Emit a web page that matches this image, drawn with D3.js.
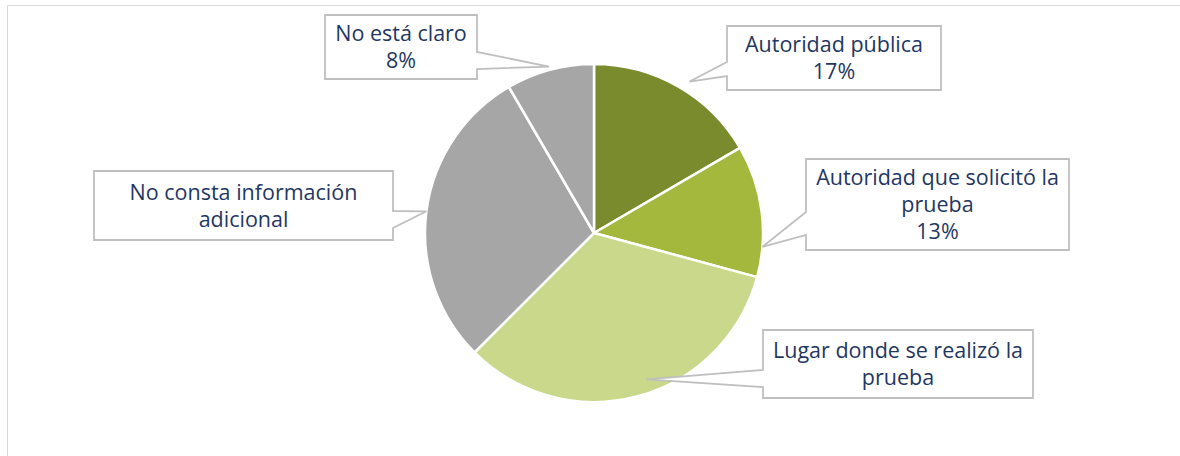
<!DOCTYPE html>
<html>
<head>
<meta charset="utf-8">
<script src="https://cdn.jsdelivr.net/npm/d3@7"></script>
<style>
  html, body { margin: 0; padding: 0; background: #fff; }
  svg { display: block; }
</style>
</head>
<body>
<svg id="chart"></svg>
<script>
// data (slice sizes estimated from the angles)
const categories = [
  "Autoridad pública",
  "Autoridad que solicitó la prueba",
  "Lugar donde se realizó la prueba",
  "No consta información adicional",
  "No está claro"
];
const shares = [16.6, 12.6, 33.3, 29.1, 8.4];
const labelLines = [
  ["Autoridad pública"],
  ["Autoridad que solicitó la", "prueba"],
  ["Lugar donde se realizó la", "prueba"],
  ["No consta información", "adicional"],
  ["No está claro"]
];
const showPercent = [true, true, false, false, true];
const colors = ["#7a8b2e", "#a3b83d", "#c9d88a", "#a6a6a6", "#a6a6a6"];

// callout boxes (manual placement like the original), tip given relative to the slice
const callouts = [
  { x: 727, y: 26,  w: 214, h: 64, side: "left",  w0: 62,  w1: 76,  frac: 0.54, rf: 1.06 },
  { x: 806, y: 159, w: 263, h: 91, side: "left",  w0: 212, w1: 235, frac: 0.77, rf: 1.0 },
  { x: 763, y: 330, w: 270, h: 68, side: "left",  w0: 370, w1: 387, frac: 0.46, rf: 0.92 },
  { x: 94,  y: 171, w: 299, h: 69, side: "right", w0: 211, w1: 228, frac: 0.5,  rf: 1.0 },
  { x: 325, y: 15,  w: 152, h: 64, side: "right", w0: 52,  w1: 69,  frac: 0.5,  rf: 1.02 }
];

const W = 1180, H = 456;
const cx = 594, cy = 233, radius = 169;
const fontSize = 21.5, lineH = 27;

const svg = d3.select("#chart").attr("width", W).attr("height", H);

// chart area frame
svg.append("path")
  .attr("d", `M7.5,${H}V5.5H${W}`)
  .attr("fill", "none")
  .attr("stroke", "#d9d9d9")
  .attr("stroke-width", 1);

const total = d3.sum(shares);
const pie = d3.pie().sort(null).value(d => d)(shares);
const arc = d3.arc().innerRadius(0).outerRadius(radius);

const g = svg.append("g").attr("transform", `translate(${cx},${cy})`);
g.selectAll("path.slice")
  .data(pie)
  .enter().append("path")
  .attr("class", "slice")
  .attr("d", arc)
  .attr("fill", (d, i) => colors[i])
  .attr("stroke", "#fff")
  .attr("stroke-width", 2.5)
  .attr("stroke-linejoin", "round");

// callouts
pie.forEach((d, i) => {
  const c = callouts[i];
  const a = d.startAngle + (d.endAngle - d.startAngle) * c.frac;
  const tx = cx + Math.sin(a) * radius * c.rf;
  const ty = cy - Math.cos(a) * radius * c.rf;
  const x0 = c.x, x1 = c.x + c.w, y0 = c.y, y1 = c.y + c.h;
  let p;
  if (c.side === "left") {
    p = `M${x0},${y0}H${x1}V${y1}H${x0}V${c.w1}L${tx},${ty}L${x0},${c.w0}Z`;
  } else {
    p = `M${x0},${y0}H${x1}V${c.w0}L${tx},${ty}L${x1},${c.w1}V${y1}H${x0}Z`;
  }
  svg.append("path")
    .attr("d", p)
    .attr("fill", "#fff")
    .attr("stroke", "#bfbfbf")
    .attr("stroke-width", 1.8)
    .attr("stroke-linejoin", "miter");

  const lines = labelLines[i].slice();
  if (showPercent[i]) lines.push(Math.round(d.value / total * 100) + "%");
  const mid = c.y + c.h / 2;
  const t = svg.append("text")
    .attr("text-anchor", "middle")
    .attr("font-family", "'Open Sans', 'DejaVu Sans', sans-serif")
    .attr("font-size", fontSize)
    .attr("fill", "#1f3763");
  lines.forEach((ln, j) => {
    t.append("tspan")
      .attr("x", c.x + c.w / 2)
      .attr("y", mid + (j - (lines.length - 1) / 2) * lineH + fontSize * 0.36)
      .text(ln);
  });
});
</script>
</body>
</html>
